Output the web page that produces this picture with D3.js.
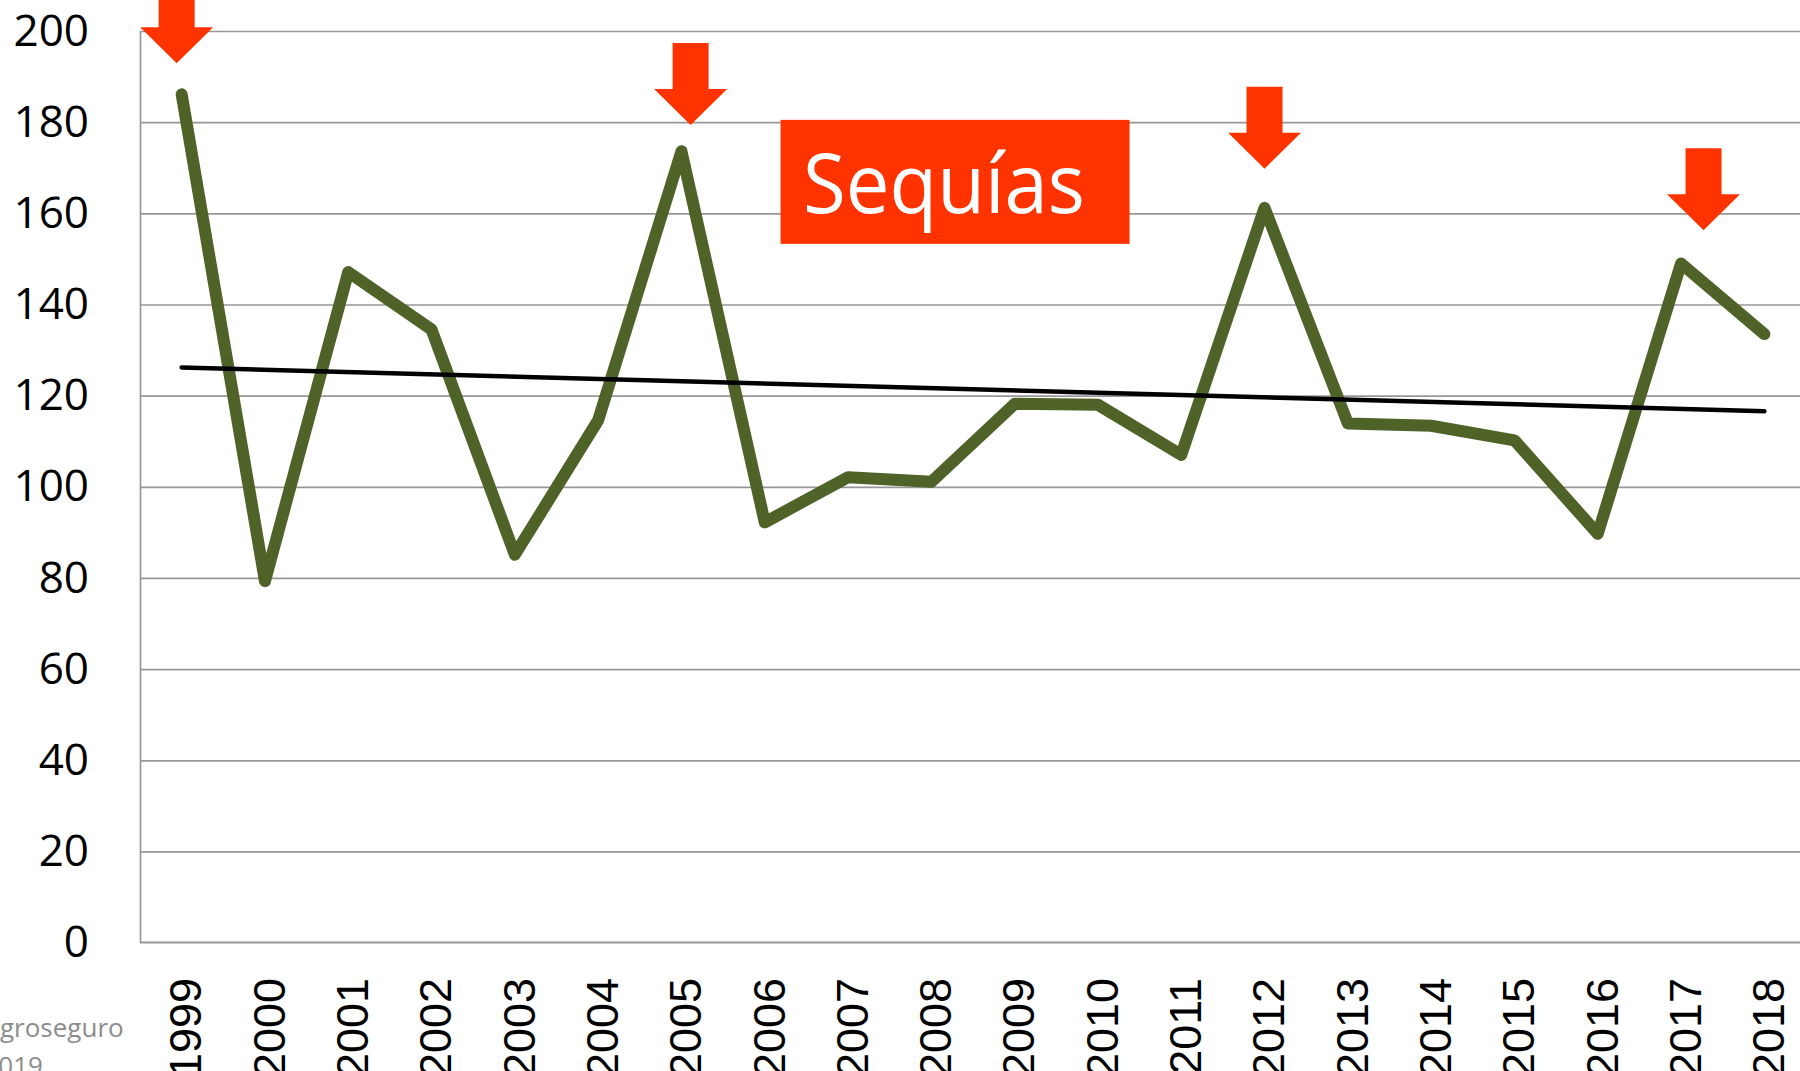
<!DOCTYPE html>
<html>
<head>
<meta charset="utf-8">
<script src="https://cdn.jsdelivr.net/npm/d3@7"></script>
<style>
  body { margin: 0; background: #fff; }
  svg { display: block; }
</style>
</head>
<body>
<div id="chart"></div>
<script>
// data
var years = ["1999", "2000", "2001", "2002", "2003", "2004", "2005", "2006", "2007", "2008",
             "2009", "2010", "2011", "2012", "2013", "2014", "2015", "2016", "2017", "2018"];
var values = [186.1, 79.3, 147.1, 134.5, 85.1, 114.6, 173.6, 92.2, 102.1, 101.1,
              118.2, 118.0, 107.0, 161.2, 113.9, 113.4, 110.2, 89.7, 149.0, 133.5];
var trendYears = ["1999", "2018"];
var trendValues = [126.2, 116.6];
var yTicks = [0, 20, 40, 60, 80, 100, 120, 140, 160, 180, 200];

// drought arrows: where the tip points (year, value)
var arrowAt = [1998.94, 2005.11, 2012.0, 2017.27];
var arrowTip = [192.9, 179.4, 169.8, 156.3];

var boxLabel = "Sequías";
var sourceLines = ["Agroseguro", "2019"];

var width = 1800,
    height = 1071;

var margin = { top: 31, left: 140 };
var plotBottom = 942.6;
var step = 83.3;

var svg = d3.select('#chart')
    .append('svg')
    .attr('width', width)
    .attr('height', height);

// scales
var xScale = d3.scaleBand()
    .domain(years)
    .range([margin.left, margin.left + step * years.length])
    .padding(0);

var xYear = d3.scaleLinear()
    .domain([+years[0], +years[years.length - 1]])
    .range([xScale(years[0]) + step / 2, xScale(years[years.length - 1]) + step / 2]);

var yScale = d3.scaleLinear()
    .domain([0, 200])
    .range([plotBottom, margin.top]);

var xc = d => xScale(d) + xScale.bandwidth() / 2;

// gridlines
var grid = svg.append("g")
    .attr("transform", "translate(" + margin.left + ",0)")
    .call(d3.axisLeft(yScale)
        .tickValues(yTicks.filter(d => d > 0))
        .tickSize(-(width - margin.left))
        .tickFormat(""));
grid.select(".domain").remove();
grid.selectAll(".tick line")
    .attr("stroke", "#979797")
    .attr("stroke-width", 1.7);

// y axis labels
var yAxis = svg.append("g")
    .attr("transform", "translate(" + margin.left + ",0)")
    .call(d3.axisLeft(yScale)
        .tickValues(yTicks)
        .tickSize(0)
        .tickPadding(51));
yAxis.select(".domain")
    .attr("stroke", "#979797")
    .attr("stroke-width", 1.7);
yAxis.selectAll("text")
    .attr("font-family", "'Open Sans', sans-serif")
    .attr("font-size", 44)
    .attr("fill", "#000");

// x axis line
svg.append("line")
    .attr("x1", margin.left)
    .attr("x2", width)
    .attr("y1", yScale(0))
    .attr("y2", yScale(0))
    .attr("stroke", "#979797")
    .attr("stroke-width", 2);

// x axis labels (rotated, cut at the bottom edge like the original)
svg.append("g")
    .selectAll("text")
    .data(years)
    .enter()
    .append("text")
    .attr("transform", d => "translate(" + xc(d) + ",978) rotate(-90)")
    .attr("dy", "0.44em")
    .style("text-anchor", "end")
    .attr("font-family", "'Liberation Sans', Arial, sans-serif")
    .attr("font-size", 45)
    .attr("fill", "#000")
    .text(d => d);

// series line
var line = d3.line()
    .x((d, i) => xc(years[i]))
    .y(d => yScale(d));

svg.append("path")
    .datum(values)
    .attr("fill", "none")
    .attr("stroke", "#4F6228")
    .attr("stroke-width", 12)
    .attr("stroke-linejoin", "round")
    .attr("stroke-linecap", "round")
    .attr("d", line);

// linear trend
var trendLine = d3.line()
    .x((d, i) => xc(trendYears[i]))
    .y(d => yScale(d));

svg.append("path")
    .datum(trendValues)
    .attr("fill", "none")
    .attr("stroke", "#000")
    .attr("stroke-width", 4.5)
    .attr("stroke-linecap", "round")
    .attr("d", trendLine);

// drought arrows
var shaftW = 36, shaftH = 46, headW = 73, headH = 36;
svg.append("g")
    .selectAll("path")
    .data(arrowAt)
    .enter()
    .append("path")
    .attr("fill", "#FF3300")
    .attr("d", function(d, i) {
        var x = xYear(d),
            y = yScale(arrowTip[i]);
        var p = d3.path();
        p.moveTo(x, y);
        p.lineTo(x - headW / 2, y - headH);
        p.lineTo(x - shaftW / 2, y - headH);
        p.lineTo(x - shaftW / 2, y - headH - shaftH);
        p.lineTo(x + shaftW / 2, y - headH - shaftH);
        p.lineTo(x + shaftW / 2, y - headH);
        p.lineTo(x + headW / 2, y - headH);
        p.closePath();
        return p.toString();
    });

// Sequias label box
svg.append("rect")
    .attr("x", xYear(2006.19))
    .attr("y", yScale(180.5))
    .attr("width", xYear(2010.38) - xYear(2006.19))
    .attr("height", yScale(153.3) - yScale(180.5))
    .attr("fill", "#FF3300");

svg.append("text")
    .attr("x", 803)
    .attr("y", 213)
    .attr("font-family", "'Open Sans', sans-serif")
    .attr("font-size", 82)
    .attr("textLength", 282)
    .attr("lengthAdjust", "spacingAndGlyphs")
    .attr("fill", "#fff")
    .text(boxLabel);

// source note (cut off at the left edge)
svg.append("g")
    .selectAll("text")
    .data(sourceLines)
    .enter()
    .append("text")
    .attr("x", -16.5)
    .attr("y", (d, i) => 1037 + i * 38)
    .attr("font-family", "'Open Sans', sans-serif")
    .attr("font-size", 26)
    .attr("fill", "#8c8c8c")
    .text(d => d);
</script>
</body>
</html>
